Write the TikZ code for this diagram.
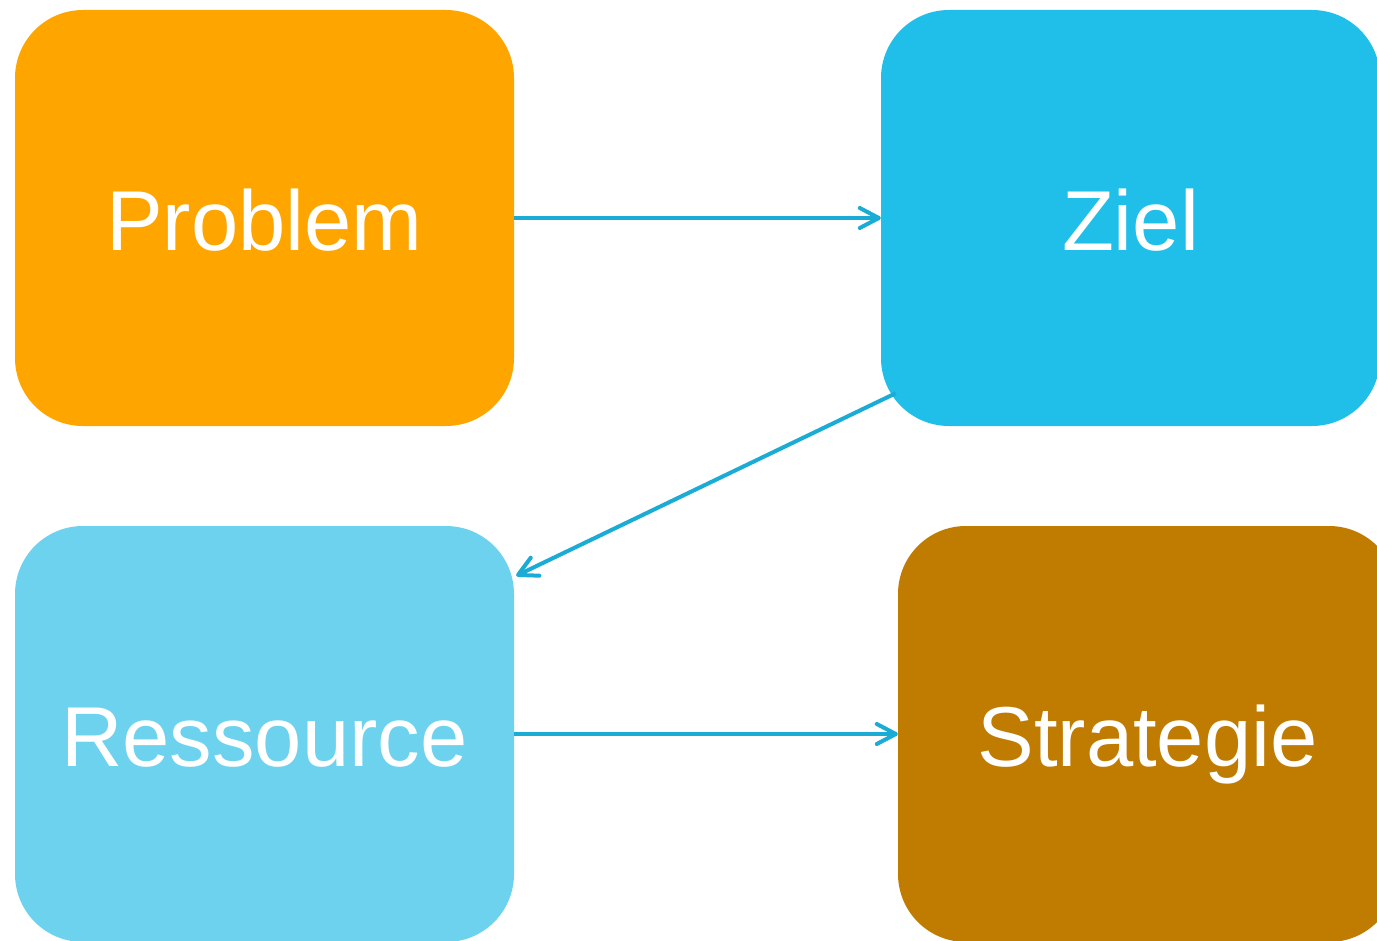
\documentclass[tikz,border=0pt]{standalone}
\usepackage{fontspec}
\setmainfont{Liberation Sans}
\usetikzlibrary{arrows.meta,calc}
\definecolor{cProblem}{RGB}{255,165,0}
\definecolor{cZiel}{RGB}{32,191,234}
\definecolor{cRes}{RGB}{109,210,238}
\definecolor{cStrat}{RGB}{192,124,0}
\definecolor{cArrow}{RGB}{27,172,214}
\tikzset{
  box/.style={rectangle, rounded corners=68pt, minimum width=499pt, minimum height=416pt,
    inner sep=0pt, text=white, font=\fontsize{85}{100}\selectfont, draw=none,
    text height=65pt, text depth=0pt},
  arr/.style={draw=cArrow, line width=4pt, -{Straight Barb[length=19pt,width=20pt,round]}}
}
\begin{document}
\begin{tikzpicture}[x=1pt,y=-1pt]
\useasboundingbox (0,0) rectangle (1377,941);
\node[box, fill=cProblem] (p) at (264.5,218) {Problem};
\node[box, fill=cZiel] (z) at (1130.5,218) {Ziel};
\node[box, fill=cRes] (r) at (264.5,734) {Ressource};
\node[box, fill=cStrat] (s) at (1147.5,734) {Strategie};
\draw[arr] (p.east) -- (z.west);
\draw[arr] (r.east) -- (s.west);
\draw[arr] ($(z.south west)+(15,-33)$) -- ($(r.north east)+(2,50)$);
\end{tikzpicture}
\end{document}
